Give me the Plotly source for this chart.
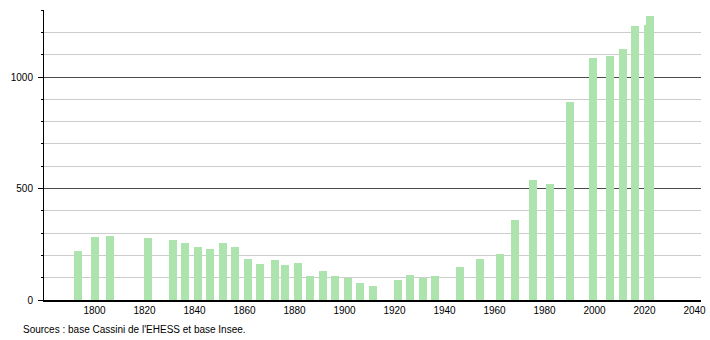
import plotly.graph_objects as go

years = [1793, 1800, 1806, 1821, 1831, 1836, 1841, 1846, 1851, 1856,
         1861, 1866, 1872, 1876, 1881, 1886, 1891, 1896, 1901, 1906,
         1911, 1921, 1926, 1931, 1936, 1946, 1954, 1962, 1968, 1975,
         1982, 1990, 1999, 2006, 2011, 2016, 2021, 2022]
population = [221, 281, 288, 278, 267, 255, 240, 230, 255, 240,
              185, 162, 180, 158, 168, 108, 132, 108, 98, 77,
              63, 90, 113, 98, 109, 149, 183, 207, 357, 540,
              521, 889, 1084, 1096, 1127, 1231, 1234, 1276]

x_ticks = [1800, 1820, 1840, 1860, 1880, 1900, 1920, 1940, 1960, 1980, 2000, 2020, 2040]
y_ticks = [0, 500, 1000]
source_text = "Sources : base Cassini de l'EHESS et base Insee."

bar_color = "#ade3ad"

fig = go.Figure()
fig.add_trace(go.Bar(
    x=years, y=population, width=3.2, offset=-1.3,
    marker=dict(color=bar_color, line=dict(width=0)),
    hoverinfo="x+y",
))

fig.update_layout(
    width=710, height=340,
    margin=dict(l=44, r=9, t=10, b=40, autoexpand=False),
    paper_bgcolor="white", plot_bgcolor="white",
    showlegend=False, bargap=0,
    font=dict(family="Liberation Sans, Arial, sans-serif", size=10, color="#000"),
)
fig.update_xaxes(
    range=[1779.8, 2042.6], automargin=False,
    tickvals=x_ticks, ticktext=[str(v) for v in x_ticks],
    showgrid=False, zeroline=False,
    showline=True, linecolor="#000", linewidth=1.5,
    ticks="", ticklen=0,
)
fig.update_yaxes(
    range=[0, 1301], automargin=False,
    tickvals=y_ticks, ticktext=[str(v) for v in y_ticks],
    showgrid=True, gridcolor="#4a4a4a", gridwidth=1,
    zeroline=False,
    showline=True, linecolor="#000", linewidth=1,
    ticks="outside", ticklen=5, tickcolor="#000",
    minor=dict(dtick=100, tick0=0, showgrid=True, gridcolor="#cccccc", gridwidth=1,
               ticks="outside", ticklen=2, tickcolor="#000"),
    ticklabelstandoff=3,
)
fig.add_annotation(
    text=source_text, xref="paper", yref="paper",
    x=-0.0355, y=-0.1, xanchor="left", yanchor="middle",
    showarrow=False, font=dict(size=10, color="#000"),
)

fig.write_html("out.html")
